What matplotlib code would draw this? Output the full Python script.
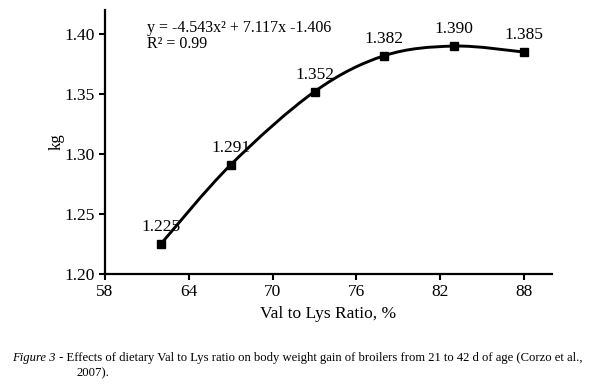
import numpy as np
import matplotlib.pyplot as plt
from matplotlib.path import Path
from matplotlib.patches import PathPatch

plt.rcParams['font.family'] = ['Liberation Serif', 'DejaVu Serif']

ratio = [62, 67, 73, 78, 83, 88]
gain = [1.225, 1.291, 1.352, 1.382, 1.390, 1.385]
gain_labels = ['1.225', '1.291', '1.352', '1.382', '1.390', '1.385']
x_ticks = [58, 64, 70, 76, 82, 88]
y_ticks = [1.20, 1.25, 1.30, 1.35, 1.40]
equation = 'y = -4.543x\u00b2 + 7.117x -1.406\nR\u00b2 = 0.99'
caption = ('Effects of dietary Val to Lys ratio on body weight gain of broilers '
           'from 21 to 42 d of age (Corzo et al.,')

fig = plt.figure(figsize=(6, 3.88), dpi=100)
ax = fig.add_axes([0.175, 0.294, 0.745, 0.68])

# smoothed line through the points (catmull-rom as bezier)
pts = np.column_stack([ratio, gain])
verts = [pts[0]]
codes = [Path.MOVETO]
n = len(pts)
for i in range(n - 1):
    p0 = pts[max(i - 1, 0)]
    p1 = pts[i]
    p2 = pts[i + 1]
    p3 = pts[min(i + 2, n - 1)]
    verts += [p1 + (p2 - p0) / 6, p2 - (p3 - p1) / 6, p2]
    codes += [Path.CURVE4] * 3
ax.add_patch(PathPatch(Path(verts, codes), fill=False, lw=2.1, color='black'))
ax.plot(ratio, gain, 's', color='black', ms=5.5, zorder=3)

for xv, yv, lab in zip(ratio, gain, gain_labels):
    ax.annotate(lab, (xv, yv), xytext=(0, 12), textcoords='offset points',
                ha='center', va='center', fontsize=12.5)

ax.text(61.0, 1.3985, equation, fontsize=11.5, va='center', linespacing=1.05)

ax.set_xlim(58, 90)
ax.set_ylim(1.20, 1.42)
ax.set_xticks(x_ticks)
ax.set_yticks(y_ticks)
ax.set_yticklabels([f'{v:.2f}' for v in y_ticks])
ax.tick_params(labelsize=12.5, width=1.5, length=4)
for s in ['top', 'right']:
    ax.spines[s].set_visible(False)
for s in ['left', 'bottom']:
    ax.spines[s].set_linewidth(1.6)
ax.set_ylabel('kg', fontsize=12, labelpad=0)
ax.set_xlabel('Val to Lys Ratio, %', fontsize=12.5, labelpad=4)

t1 = fig.text(0.02, 0.07, 'Figure 3', fontsize=9.1, style='italic', va='baseline')
ax.annotate(' - ' + caption, xy=(1, 0), xycoords=t1, fontsize=9.1,
            va='bottom', annotation_clip=False)
fig.text(0.127, 0.03, '2007).', fontsize=9.1, va='baseline')

fig.savefig('out.png', dpi=100)
